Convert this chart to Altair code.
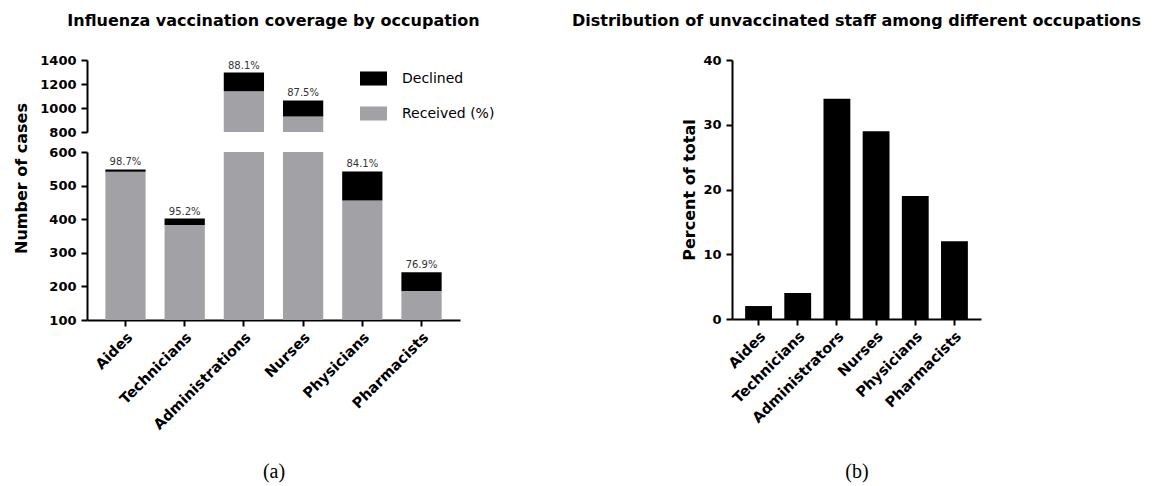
import altair as alt
import pandas as pd

# ---- data ----
occupations_a = ["Aides", "Technicians", "Administrations", "Nurses", "Physicians", "Pharmacists"]
received = [541, 383, 1140, 930, 456, 186]
declined = [7, 19, 155, 133, 86, 56]
coverage_labels = ["98.7%", "95.2%", "88.1%", "87.5%", "84.1%", "76.9%"]

occupations_b = ["Aides", "Technicians", "Administrators", "Nurses", "Physicians", "Pharmacists"]
unvaccinated_pct = [2, 4, 34, 29, 19, 12]

status_names = ["Declined", "Received (%)"]
status_colors = ["#000000", "#a2a1a6"]

FONT = "DejaVu Sans"

rows = []
for occ, rec, dec, lab in zip(occupations_a, received, declined, coverage_labels):
    rows.append({"occupation": occ, "status": "Received (%)", "start": 0, "end": rec, "label": ""})
    rows.append({"occupation": occ, "status": "Declined", "start": rec, "end": rec + dec, "label": lab})
df_a = pd.DataFrame(rows)
df_b = pd.DataFrame({"occupation": occupations_b, "pct": unvaccinated_pct})

x_scale_a = alt.Scale(domain=occupations_a, paddingInner=0.32, paddingOuter=0.31)
color_enc = alt.Color(
    "status:N",
    scale=alt.Scale(domain=status_names, range=status_colors),
    legend=alt.Legend(
        title=None, orient="none", legendX=273, legendY=5,
        symbolType="M-1,-0.52H1V0.52H-1Z", symbolSize=729, symbolStrokeWidth=0,
        labelFont=FONT, labelFontSize=14, labelColor="black", labelOffset=15,
        rowPadding=14, padding=0,
    ),
)

CAPTION = dict(titleFont="Liberation Serif", titleFontWeight="normal", titleFontSize=20)
XLAB = dict(labelAngle=315, labelFontSize=14.5, labelPadding=4)


def panel(domain, ticks, show_x, y_title, filt, height, title=None):
    common = dict(values=ticks, format="d", labelOverlap=False, labelFlush=False)
    if y_title:
        y_axis = alt.Axis(title=y_title, titleY=26, titlePadding=19, **common)
    else:
        y_axis = alt.Axis(title=None, **common)
    x_axis = alt.Axis(title="(a)", titlePadding=30, **XLAB, **CAPTION) if show_x else None
    x_enc = alt.X("occupation:N", sort=occupations_a, scale=x_scale_a, axis=x_axis)
    y_scale = alt.Scale(domain=domain, nice=False, zero=False)
    bars = alt.Chart(df_a).mark_bar(clip=True).encode(
        x=x_enc,
        y=alt.Y("start:Q", scale=y_scale, axis=y_axis),
        y2="end:Q",
        color=color_enc,
    )
    text = alt.Chart(df_a).transform_filter(filt).mark_text(
        dy=-2, baseline="bottom", font=FONT, fontSize=10, color="#333333"
    ).encode(
        x=x_enc,
        y=alt.Y("end:Q", scale=y_scale, axis=y_axis),
        text="label:N",
    )
    ch = alt.layer(bars, text).properties(width=373, height=height)
    if title is not None:
        ch = ch.properties(title=title)
    return ch


top = panel([800, 1400], [800, 1000, 1200, 1400], False, None,
            "datum.status == 'Declined' && datum.end >= 800", 72,
            title=alt.TitleParams("Influenza vaccination coverage by occupation", font=FONT,
                                  fontSize=16, fontWeight="bold", frame="group",
                                  anchor="middle", offset=25))
bottom = panel([100, 600], [100, 200, 300, 400, 500, 600], True, "Number of cases",
               "datum.status == 'Declined' && datum.end <= 600", 168)

left = alt.vconcat(top, bottom, spacing=20, bounds="flush").resolve_scale(y="independent")

right = alt.Chart(df_b).mark_bar(color="black").encode(
    x=alt.X("occupation:N", sort=occupations_b,
            scale=alt.Scale(domain=occupations_b, paddingInner=0.315, paddingOuter=0.335),
            axis=alt.Axis(title="(b)", titlePadding=37, **XLAB, **CAPTION)),
    y=alt.Y("pct:Q", scale=alt.Scale(domain=[0, 40], nice=False),
            axis=alt.Axis(values=[0, 10, 20, 30, 40], title="Percent of total", titlePadding=5)),
).properties(
    width=249, height=259,
    title=alt.TitleParams("Distribution of unvaccinated staff among different occupations",
                          font=FONT, fontSize=16, fontWeight="bold", frame="group",
                          anchor="middle", offset=25),
)

chart = alt.hconcat(left, right, spacing=91).resolve_scale(
    x="independent", y="independent"
).configure_view(stroke=None).configure_axis(
    grid=False, domainColor="black", domainWidth=2, tickColor="black", tickWidth=2,
    tickSize=6, labelPadding=5, labelFont=FONT, labelFontWeight="bold", labelFontSize=13,
    labelColor="black", titleFont=FONT, titleFontWeight="bold", titleFontSize=16,
    titleColor="black",
).configure_title(color="black")

chart.save("out.html", embed_options={"renderer": "svg", "actions": False})
